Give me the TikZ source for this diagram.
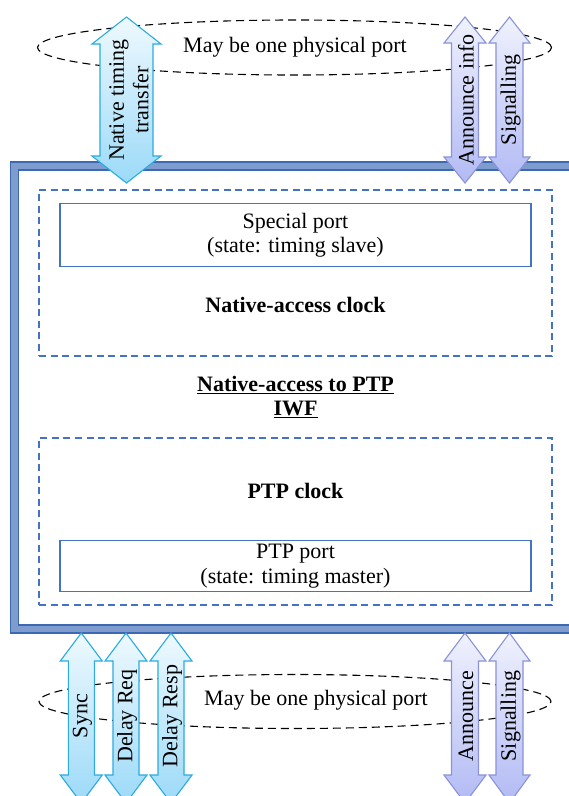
\documentclass[tikz,border=0pt]{standalone}
\usepackage{fontspec}
\setmainfont{Liberation Serif}
\usetikzlibrary{shapes.geometric}
\definecolor{bandfill}{HTML}{7E9DCE}
\definecolor{banddark}{HTML}{3D69B2}
\definecolor{boxblue}{HTML}{4472C4}
\definecolor{cyanB}{HTML}{2AACE2}
\definecolor{cyanT}{HTML}{EEF9FE}
\definecolor{cyanBot}{HTML}{9CDAF8}
\definecolor{lavB}{HTML}{8A93D8}
\definecolor{lavT}{HTML}{F0F2FD}
\definecolor{lavBot}{HTML}{B2BAF4}
\tikzset{
  cyanarrow/.style={draw=cyanB, line width=1.1pt, top color=cyanT, bottom color=cyanBot},
  lavarrow/.style={draw=lavB, line width=1.1pt, top color=lavT, bottom color=lavBot},
  dashbox/.style={draw=boxblue, line width=1.6pt, dash pattern=on 7pt off 4.5pt, inner sep=0pt},
  portbox/.style={draw=boxblue, line width=1.3pt, inner sep=0pt},
  portell/.style={ellipse, draw=black, line width=1.1pt, dash pattern=on 8pt off 5pt, inner sep=0pt},
  lbl/.style={align=center, inner sep=0pt, text=black},
  arrlbl/.style={align=center, inner sep=0pt, rotate=90, text=black}
}
% #1 style, #2 cx, #3 top, #4 bottom, #5 shaft half, #6 head half, #7 head length
\newcommand\dblarrow[7]{%
  \path[#1] (#2,#3) -- ({#2+#6},{#3+#7}) -- ({#2+#5},{#3+#7}) -- ({#2+#5},{#4-#7})
    -- ({#2+#6},{#4-#7}) -- (#2,#4) -- ({#2-#6},{#4-#7}) -- ({#2-#5},{#4-#7})
    -- ({#2-#5},{#3+#7}) -- ({#2-#6},{#3+#7}) -- cycle;}
\begin{document}
\begin{tikzpicture}[x=1pt, y=-1pt, font=\fontsize{22}{24.5}\selectfont]
\useasboundingbox (0,0) rectangle (569,796);
\clip (0,0) rectangle (569,796);
\fill[white] (0,0) rectangle (569,796);

% ellipses
\node[portell, minimum width=514, minimum height=55] (etop) at (294.5,47.5) {};
\node[portell, minimum width=512, minimum height=54] (ebot) at (295,701.5) {};

% outer box (double border)
\draw[bandfill, line width=8pt] (14.6,166) rectangle (640,629);
\draw[banddark, line width=1.1pt] (10.6,162) rectangle (644,633);
\draw[banddark, line width=1.1pt] (18.6,170) rectangle (636,625);

% dashed clocks
\node[dashbox, minimum width=513, minimum height=166] (nacbox) at (295.5,273) {};
\node[dashbox, minimum width=513, minimum height=167] (ptpbox) at (295.5,521.5) {};

% port boxes
\node[portbox, minimum width=471, minimum height=63] (spport) at (295.5,235) {};
\node[lbl] (sptext) at (spport.center) {Special port\\(state: timing slave)};
\node[portbox, minimum width=471, minimum height=51] (ptpport) at (295.5,566) {};
\node[lbl] (ptptext) at (ptpport.center) {PTP port\\(state: timing master)};

\node[lbl, font=\fontsize{22}{24.5}\selectfont\bfseries] (nacl) at (295.5,305) {Native-access clock};
\node[lbl, font=\fontsize{22}{24.5}\selectfont\bfseries] (iwf) at (295.5,397) {\underline{Native-access to PTP}\\\underline{IWF}};
\node[lbl, font=\fontsize{22}{24.5}\selectfont\bfseries] (ptpcl) at (295.5,491) {PTP clock};

% top arrows
\dblarrow{cyanarrow}{126.5}{17}{183}{26.5}{34.5}{27}
\node[arrlbl] (tnat) at (129,100) {Native timing\\transfer};
\dblarrow{lavarrow}{465}{17}{183}{13.5}{21}{26}
\node[arrlbl] (tann) at (466,100) {Announce info};
\dblarrow{lavarrow}{509.5}{17}{183}{13.5}{20.5}{26}
\node[arrlbl] (tsig) at (510.5,100) {Signalling};

% bottom arrows
\dblarrow{cyanarrow}{81.3}{633}{803}{13}{21}{28}
\node[arrlbl] (bsync) at (82.5,716) {Sync};
\dblarrow{cyanarrow}{126}{633}{803}{13}{21}{28}
\node[arrlbl] (bdreq) at (127,716) {Delay Req};
\dblarrow{cyanarrow}{171}{633}{803}{13}{21}{28}
\node[arrlbl] (bdresp) at (172,716) {Delay Resp};
\dblarrow{lavarrow}{465}{633}{803}{13.5}{21}{28}
\node[arrlbl] (bann) at (466,716) {Announce};
\dblarrow{lavarrow}{509.5}{633}{803}{13.5}{20.5}{28}
\node[arrlbl] (bsig) at (510.5,716) {Signalling};

% ellipse labels
\node[lbl] (etoptext) at (295,47) {May be one physical port};
\node[lbl] (ebottext) at (316,700) {May be one physical port};
\end{tikzpicture}
\end{document}
